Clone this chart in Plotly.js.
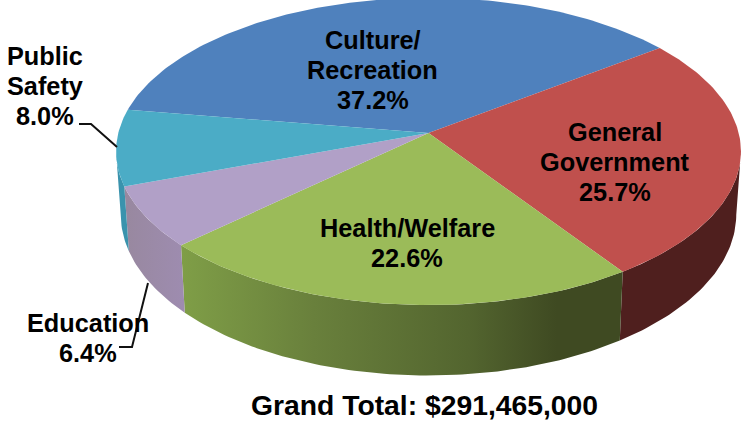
<!DOCTYPE html>
<html>
<head>
<meta charset="utf-8">
<script src="https://cdn.plot.ly/plotly-3.0.1.min.js"></script>
<style>html,body{margin:0;padding:0;background:#fff}#chart{width:744px;height:424px}</style>
</head>
<body>
<div id="chart"></div>
<script>
// Data
const categories = ['Culture/Recreation', 'General Government', 'Health/Welfare', 'Education', 'Public Safety'];
const shares = [37.2, 25.7, 22.6, 6.4, 8.0];
const labelLines = [
  ['Culture/', 'Recreation', '37.2%'],
  ['General', 'Government', '25.7%'],
  ['Health/Welfare', '22.6%'],
  ['Education', '6.4%'],
  ['Public', 'Safety', '8.0%']
];
const grandTotal = 'Grand Total: $291,465,000';

// Styles and layout
const topColors = ['#4F81BD', '#C0504D', '#9BBB59', '#B1A0C7', '#4BACC6'];
const wallScales = [
  [[0, '#3A6190'], [1, '#3A6190']],
  [[0, '#4F1F1E'], [1, '#4F1F1E']],
  [[0, '#7F9E47'], [0.3, '#69803C'], [0.65, '#53652F'], [0.85, '#3F4A22'], [1, '#3F4A22']],
  [[0, '#98889F'], [1, '#9E8CB0']],
  [[0, '#3A93AD'], [1, '#3A93AD']]
];
const labelCenters = [[372.5, 70], [615, 162], [407, 243], [87.5, 338], [45, 86]];
const lineGap = 30;
const leaderX = [[79, 91, 117], [119, 132, 148]];
const leaderY = [[124, 124, 147], [347, 347, 283]];

// Perspective disc projection
const apexX = 428.5, apexY = 133, scaleX = 310.2, scaleY = 151.4, persp = 0.12;
const depth = 62, bottomShrink = 0.985, firstAngle = 279;
const wallFrom = 97, wallTo = 263;

function project(deg, r) {
  const a = deg * Math.PI / 180, u = r * Math.sin(a), v = r * Math.cos(a), w = 1 + persp * v;
  return [apexX + scaleX * u / w, apexY - scaleY * v / w, w];
}
function arc(from, to) {
  const out = [], n = Math.max(2, Math.ceil(Math.abs(to - from)));
  for (let i = 0; i <= n; i++) out.push(from + (to - from) * i / n);
  return out;
}

const total = shares.reduce((s, v) => s + v, 0);
let cursor = firstAngle;
const spans = shares.map(v => { const s = [cursor, cursor + v / total * 360]; cursor = s[1]; return s; });

const wallTraces = [], topTraces = [];
spans.forEach((s, i) => {
  // top face
  const angs = arc(s[0], s[1]);
  const xs = [apexX], ys = [apexY];
  angs.forEach(d => { const p = project(d, 1); xs.push(p[0]); ys.push(p[1]); });
  xs.push(apexX); ys.push(apexY);
  topTraces.push({ x: xs, y: ys, mode: 'lines', line: { width: 0, color: topColors[i] }, fill: 'toself',
    fillcolor: topColors[i], name: categories[i], hoverinfo: 'skip', showlegend: false });
  // front wall
  [0, 360].forEach(off => {
    const a = Math.max(s[0] - off, wallFrom), b = Math.min(s[1] - off, wallTo);
    if (b <= a) return;
    const wa = arc(a, b), wx = [], wy = [];
    wa.forEach(d => { const p = project(d, 1); wx.push(p[0]); wy.push(p[1]); });
    wa.slice().reverse().forEach(d => {
      const p = project(d, 1);
      wx.push(apexX + (p[0] - apexX) * bottomShrink); wy.push(p[1] + depth / p[2]);
    });
    wx.push(wx[0]); wy.push(wy[0]);
    wallTraces.push({ x: wx, y: wy, mode: 'lines', line: { width: 0, color: wallScales[i][0][1] }, fill: 'toself',
      fillgradient: { type: 'horizontal', colorscale: wallScales[i] },
      hoverinfo: 'skip', showlegend: false });
  });
});

const leaderTraces = leaderX.map((lx, i) => ({ x: lx, y: leaderY[i], mode: 'lines',
  line: { color: '#111', width: 2 }, hoverinfo: 'skip', showlegend: false }));

const annotations = [];
labelLines.forEach((lines, i) => {
  lines.forEach((t, j) => annotations.push({
    x: labelCenters[i][0], y: labelCenters[i][1] + (j - (lines.length - 1) / 2) * lineGap,
    xref: 'x', yref: 'y', text: t, showarrow: false, xanchor: 'center', yanchor: 'middle',
    font: { family: 'Liberation Sans, Arial, sans-serif', size: 25.3, color: '#000', weight: 700 }
  }));
});
annotations.push({ x: 424, y: 405, xref: 'x', yref: 'y', text: grandTotal, showarrow: false,
  xanchor: 'center', yanchor: 'middle',
  font: { family: 'Liberation Sans, Arial, sans-serif', size: 28.3, color: '#000', weight: 700 } });

const hidden = { visible: false, showgrid: false, zeroline: false, fixedrange: true };
Plotly.newPlot('chart', wallTraces.concat(topTraces, leaderTraces), {
  width: 744, height: 424, margin: { l: 0, r: 0, t: 0, b: 0 },
  paper_bgcolor: '#fff', plot_bgcolor: '#fff', showlegend: false,
  xaxis: Object.assign({ range: [0, 744] }, hidden),
  yaxis: Object.assign({ range: [424, 0] }, hidden),
  annotations: annotations
}, { staticPlot: true, displayModeBar: false });
</script>
</body>
</html>
